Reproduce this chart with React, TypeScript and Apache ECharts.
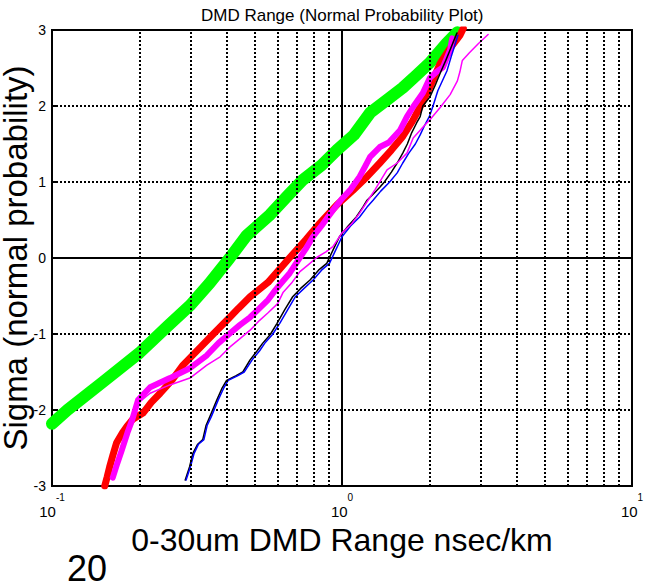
import React, { useEffect, useRef } from "react";
import * as echarts from "echarts";

// Normal probability plot of DMD range, five measurement sets on a log x-axis.
const X_MIN = 0.1;
const X_MAX = 10;
const Y_MIN = -3;
const Y_MAX = 3;

// minor decade grid lines
const MINOR_X = [0.2, 0.3, 0.4, 0.5, 0.6, 0.7, 0.8, 0.9, 2, 3, 4, 5, 6, 7, 8, 9];

const greenPts: [number, number][] = [
  [0.1, -2.18], [0.113, -2.0], [0.15, -1.63], [0.2, -1.25], [0.25, -0.9], [0.3, -0.62],
  [0.35, -0.33], [0.41, 0.0], [0.47, 0.3], [0.565, 0.57], [0.65, 0.82], [0.734, 1.03],
  [0.85, 1.22], [0.961, 1.42], [1.1, 1.62], [1.25, 1.91], [1.45, 2.1], [1.62, 2.24],
  [1.8, 2.4], [2.01, 2.57], [2.3, 2.83], [2.5, 2.97],
];

const redPts: [number, number][] = [
  [0.152, -3.0], [0.155, -2.88], [0.158, -2.75], [0.162, -2.6], [0.167, -2.43], [0.175, -2.3],
  [0.181, -2.22], [0.19, -2.12], [0.206, -2.04], [0.22, -1.9], [0.236, -1.78], [0.26, -1.6],
  [0.283, -1.41], [0.324, -1.18], [0.36, -1.0], [0.401, -0.82], [0.44, -0.66], [0.482, -0.51],
  [0.556, -0.32], [0.662, 0.01], [0.75, 0.24], [0.839, 0.46], [0.96, 0.7], [1.09, 0.89],
  [1.22, 1.07], [1.35, 1.25], [1.48, 1.42], [1.62, 1.6], [1.75, 1.8], [1.86, 1.99],
  [2.01, 2.25], [2.18, 2.56], [2.35, 2.75], [2.55, 2.93], [2.62, 3.02],
];

const magentaThickPts: [number, number][] = [
  [0.162, -2.89], [0.168, -2.7], [0.174, -2.53], [0.182, -2.3], [0.189, -2.13], [0.198, -1.87],
  [0.218, -1.7], [0.255, -1.58], [0.299, -1.45], [0.342, -1.28], [0.375, -1.12], [0.411, -0.99],
  [0.445, -0.88], [0.482, -0.78], [0.52, -0.66], [0.556, -0.55], [0.59, -0.42], [0.627, -0.3],
  [0.66, -0.2], [0.7, -0.05], [0.75, 0.12], [0.794, 0.28], [0.86, 0.45], [0.931, 0.63],
  [1.0, 0.78], [1.07, 0.9], [1.15, 1.07], [1.2, 1.2], [1.25, 1.33], [1.35, 1.46],
  [1.45, 1.52], [1.585, 1.68], [1.675, 1.86], [1.76, 1.99], [1.9, 2.17], [2.01, 2.37],
  [2.12, 2.45], [2.23, 2.51], [2.36, 2.74], [2.4, 2.89],
];

const magentaThinPts: [number, number][] = [
  [0.165, -2.8], [0.176, -2.45], [0.19, -2.1], [0.198, -1.91], [0.218, -1.78], [0.255, -1.67],
  [0.299, -1.58], [0.342, -1.41], [0.38, -1.3], [0.411, -1.17], [0.445, -1.06], [0.482, -0.95],
  [0.52, -0.82], [0.556, -0.72], [0.6, -0.6], [0.627, -0.45], [0.67, -0.33], [0.716, -0.18],
  [0.77, -0.08], [0.82, 0.01], [0.88, 0.08], [0.93, 0.15], [1.0, 0.33], [1.08, 0.45],
  [1.15, 0.59], [1.22, 0.74], [1.3, 0.9], [1.43, 1.16], [1.55, 1.25], [1.675, 1.38],
  [1.76, 1.58], [1.9, 1.72], [2.01, 1.82], [2.18, 1.98], [2.36, 2.15], [2.5, 2.33],
  [2.55, 2.45], [2.6, 2.6], [2.75, 2.7], [2.95, 2.82], [3.19, 2.94],
];

const blackPts: [number, number][] = [
  [0.288, -2.92], [0.298, -2.75], [0.306, -2.57], [0.318, -2.45], [0.331, -2.39], [0.34, -2.2],
  [0.35, -2.09], [0.37, -1.87], [0.385, -1.72], [0.4, -1.61], [0.43, -1.55], [0.455, -1.5],
  [0.482, -1.34], [0.51, -1.22], [0.533, -1.12], [0.565, -1.01], [0.597, -0.86], [0.635, -0.68],
  [0.676, -0.51], [0.72, -0.4], [0.776, -0.29], [0.83, -0.16], [0.886, -0.07], [0.93, 0.1],
  [0.98, 0.28], [1.05, 0.42], [1.12, 0.54], [1.18, 0.67], [1.22, 0.76], [1.28, 0.84],
  [1.35, 0.93], [1.4, 1.0], [1.48, 1.13], [1.55, 1.25], [1.62, 1.38], [1.68, 1.5],
  [1.74, 1.65], [1.81, 1.78], [1.86, 1.86], [1.9, 2.0], [2.01, 2.12], [2.1, 2.28],
  [2.18, 2.43], [2.28, 2.6], [2.36, 2.74], [2.43, 2.86], [2.49, 2.96],
];

const bluePts: [number, number][] = [
  [0.29, -2.92], [0.3, -2.75], [0.309, -2.57], [0.32, -2.45], [0.334, -2.39], [0.343, -2.2],
  [0.354, -2.09], [0.374, -1.87], [0.39, -1.72], [0.405, -1.61], [0.436, -1.55], [0.46, -1.5],
  [0.49, -1.34], [0.52, -1.22], [0.542, -1.12], [0.575, -1.01], [0.61, -0.86], [0.65, -0.68],
  [0.69, -0.51], [0.74, -0.4], [0.795, -0.29], [0.85, -0.16], [0.905, -0.07], [0.95, 0.1],
  [1.0, 0.28], [1.07, 0.42], [1.15, 0.54], [1.22, 0.67], [1.28, 0.76], [1.36, 0.88],
  [1.46, 1.0], [1.55, 1.12], [1.62, 1.25], [1.7, 1.38], [1.79, 1.5], [1.86, 1.62],
  [1.93, 1.75], [2.0, 1.86], [2.06, 2.0], [2.14, 2.2], [2.3, 2.46], [2.38, 2.65],
  [2.44, 2.78], [2.51, 2.93],
];

const FONT = '"Liberation Sans", Arial, Helvetica, sans-serif';

function lineSeries(data: [number, number][], color: string, width: number) {
  return {
    type: "line",
    data,
    showSymbol: false,
    symbol: "none",
    silent: true,
    lineStyle: { color, width, join: "round", cap: "round" },
  };
}

export default function App() {
  const ref = useRef<HTMLDivElement>(null);

  useEffect(() => {
    if (!ref.current) return;
    const chart = echarts.init(ref.current, null, { renderer: "svg" });
    chart.setOption({
      animation: false,
      backgroundColor: "#fff",
      textStyle: { fontFamily: FONT },
      title: {
        text: "DMD Range (Normal Probability Plot)",
        left: 196,
        top: 2,
        textStyle: { fontSize: 17, fontWeight: "normal", color: "#000", fontFamily: FONT },
      },
      grid: {
        left: 52,
        right: 24,
        top: 30,
        bottom: 102,
        outerBoundsMode: "none",
        containLabel: false,
        show: true,
        borderColor: "#000",
        borderWidth: 2,
        backgroundColor: "#fff",
      },
      xAxis: {
        type: "log",
        logBase: 10,
        min: X_MIN,
        max: X_MAX,
        name: "0-30um DMD Range nsec/km",
        nameLocation: "middle",
        nameGap: 38,
        nameMoveOverlap: false,
        nameTextStyle: { fontSize: 32, color: "#000", fontFamily: FONT },
        axisLine: { show: true, lineStyle: { color: "#000", width: 2 } },
        axisTick: { show: true, inside: true, length: 5, lineStyle: { color: "#000", width: 2 } },
        splitLine: { show: true, lineStyle: { color: "#000", width: 2, type: "solid" } },
        axisLabel: {
          margin: 6,
          color: "#000",
          formatter: (v: number) => `{b|10}{s|${Math.round(Math.log10(v))}}`,
          rich: {
            b: { fontSize: 15, lineHeight: 38, color: "#000", fontFamily: FONT },
            s: { fontSize: 10, lineHeight: 10, verticalAlign: "top", color: "#000", fontFamily: FONT },
          },
        },
      },
      yAxis: {
        type: "value",
        min: Y_MIN,
        max: Y_MAX,
        interval: 1,
        name: "Sigma (normal probability)",
        nameLocation: "middle",
        nameGap: 20,
        nameMoveOverlap: false,
        nameTextStyle: { fontSize: 33, color: "#000", fontFamily: FONT },
        axisLine: { show: true, lineStyle: { color: "#000", width: 2 } },
        axisTick: { show: true, inside: true, length: 5, lineStyle: { color: "#000", width: 2 } },
        splitLine: { show: true, lineStyle: { color: "#000", width: 2, type: [2, 2] } },
        axisLabel: { fontSize: 14, color: "#000", margin: 6, fontFamily: FONT },
      },
      graphic: [
        {
          type: "text",
          left: 67,
          top: 550,
          style: { text: "20", font: `36px ${FONT}`, lineHeight: 36, fill: "#000" },
        },
      ],
      series: [
        {
          type: "line",
          data: [],
          silent: true,
          markLine: {
            silent: true,
            symbol: ["none", "none"],
            label: { show: false },
            lineStyle: { color: "#000", width: 2, type: [2, 2] },
            data: MINOR_X.map((v) => ({ xAxis: v })),
          },
        },
        lineSeries(greenPts, "#00ff00", 12),
        lineSeries(redPts, "#ff0000", 7),
        lineSeries(magentaThickPts, "#ff00ff", 6),
        lineSeries(blackPts, "#000000", 1.5),
        lineSeries(bluePts, "#0000ff", 1.5),
        lineSeries(magentaThinPts, "#ff00ff", 1.5),
      ],
    });
    return () => chart.dispose();
  }, []);

  return (
    <div
      ref={ref}
      style={{ position: "absolute", left: 0, top: 0, width: 656, height: 588 }}
    />
  );
}
